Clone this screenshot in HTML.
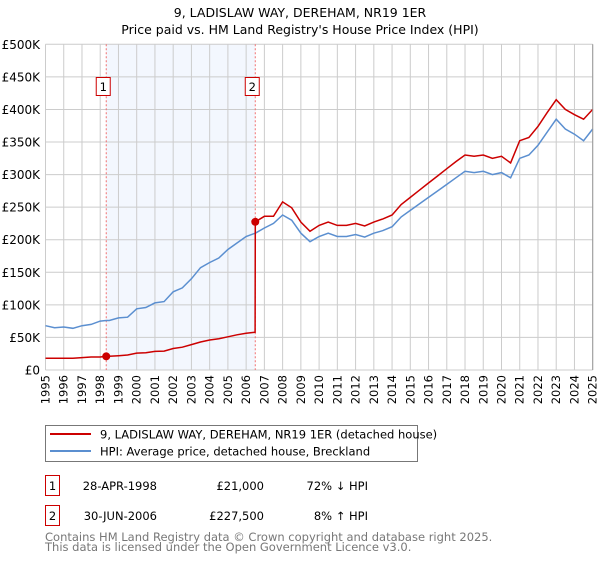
<!DOCTYPE html>
<html><head><meta charset="utf-8"><style>
body{margin:0;background:#fff;font-family:"Liberation Sans","DejaVu Sans",sans-serif;}
svg text{font-family:"DejaVu Sans","Liberation Sans",sans-serif;}
</style></head><body>
<svg id="chart" width="600" height="560" xmlns="http://www.w3.org/2000/svg">
<text x="300" y="17" text-anchor="middle" font-size="12.5" fill="#000">9, LADISLAW WAY, DEREHAM, NR19 1ER</text>
<text x="300" y="34" text-anchor="middle" font-size="12.5" fill="#000">Price paid vs. HM Land Registry's House Price Index (HPI)</text>
<g id="plot"></g>
<g>
<rect x="45.5" y="425.5" width="372" height="36" fill="#fff" stroke="#777"/>
<line x1="50" y1="434" x2="91" y2="434" stroke="#cc0000" stroke-width="2"/>
<text x="100" y="438.5" font-size="11.5">9, LADISLAW WAY, DEREHAM, NR19 1ER (detached house)</text>
<line x1="50" y1="451" x2="91" y2="451" stroke="#5b8fd0" stroke-width="2"/>
<text x="100" y="455.5" font-size="11.5">HPI: Average price, detached house, Breckland</text>
</g>
<g font-size="11.5">
<rect x="45.5" y="475.5" width="14" height="20" fill="#fff" stroke="#cc0000"/>
<text x="52.5" y="490" text-anchor="middle">1</text>
<text x="157" y="490" text-anchor="end">28-APR-1998</text>
<text x="264" y="490" text-anchor="end">£21,000</text>
<text x="368" y="490" text-anchor="end">72% ↓ HPI</text>
<rect x="45.5" y="505.5" width="14" height="20" fill="#fff" stroke="#cc0000"/>
<text x="52.5" y="520" text-anchor="middle">2</text>
<text x="157" y="520" text-anchor="end">30-JUN-2006</text>
<text x="264" y="520" text-anchor="end">£227,500</text>
<text x="368" y="520" text-anchor="end">8% ↑ HPI</text>
</g>
<text x="45" y="541" font-size="11.5" fill="#777">Contains HM Land Registry data © Crown copyright and database right 2025.</text>
<text x="45" y="551" font-size="11.5" fill="#777">This data is licensed under the Open Government Licence v3.0.</text>
</svg>
<script>
const dates=[1995,1995.5,1996,1996.5,1997,1997.5,1998,1998.33,1998.5,1999,1999.5,2000,2000.5,2001,2001.5,2002,2002.5,2003,2003.5,2004,2004.5,2005,2005.5,2006,2006.49,2006.5,2007,2007.5,2008,2008.5,2009,2009.5,2010,2010.5,2011,2011.5,2012,2012.5,2013,2013.5,2014,2014.5,2015,2015.5,2016,2016.5,2017,2017.5,2018,2018.5,2019,2019.5,2020,2020.5,2021,2021.5,2022,2022.5,2023,2023.5,2024,2024.5,2025];
const hpiValues=[68,65,66,64,68,70,75,76,76,80,81,94,96,103,105,120,126,140,157,165,172,185,195,205,210,210,218,225,238,230,210,197,205,210,205,205,208,204,210,214,220,235,245,255,265,275,285,295,305,303,305,300,303,295,325,330,345,365,385,370,362,352,370];
const propValues=[18,18,18,18,19,20,20,21,21,22,23,26,26.5,28.5,29,33,35,39,43,46,48,51,54,56.5,58,227.5,236,236,258,249,227,213,222,227,222,222,225,221,227,232,238,254,265,276,287,298,309,320,330,328,330,325,328,318,352,357,374,395,415,400,392,385,400];
const saleDates=[1998.33,2006.5];
const salePrices=[21,227.5];
const yTicks=[0,50,100,150,200,250,300,350,400,450,500];
const yTickLabels=["£0","£50K","£100K","£150K","£200K","£250K","£300K","£350K","£400K","£450K","£500K"];
const xTicks=[1995,1996,1997,1998,1999,2000,2001,2002,2003,2004,2005,2006,2007,2008,2009,2010,2011,2012,2013,2014,2015,2016,2017,2018,2019,2020,2021,2022,2023,2024,2025];

const X0=45.5,X1=592.7,Y0=370,Y1=44.3;
const xs=d=>X0+(d-1995)/30*(X1-X0);
const ys=v=>Y0-v/500*(Y0-Y1);
const NS="http://www.w3.org/2000/svg";
const plot=document.getElementById('plot');
function mk(tag,attrs,parent){const e=document.createElementNS(NS,tag);for(const k in attrs)e.setAttribute(k,attrs[k]);(parent||plot).appendChild(e);return e;}
const shade=mk('rect',{x:xs(saleDates[0]),y:Y1,width:xs(saleDates[1])-xs(saleDates[0]),height:Y0-Y1,fill:'#eef3fd',opacity:0.7});


xTicks.forEach(t=>{
  const g=mk('line',{x1:xs(t),x2:xs(t),y1:Y1,y2:Y0,stroke:'#ccc','stroke-width':1});
  
  
  const tx=mk('text',{x:0,y:0,'font-size':11.5,'text-anchor':'end',transform:`translate(${xs(t)+4},${Y0+5}) rotate(-90)`});
  tx.textContent=t;
  
  
});
yTicks.forEach((t,i)=>{
  const g=mk('line',{x1:X0,x2:X1,y1:ys(t),y2:ys(t),stroke:'#ccc','stroke-width':1});
  
  
  const tx=mk('text',{x:40,y:ys(t)+4.5,'font-size':12,'text-anchor':'end'});
  tx.textContent=yTickLabels[i];
  
  
});
saleDates.forEach((d,i)=>{
  const l=mk('line',{x1:xs(d),x2:xs(d),y1:Y1,y2:Y0,stroke:'#f07070','stroke-width':1,'stroke-dasharray':'2,2'});
  
  
  const r=mk('rect',{x:xs(d)-10,y:77.5,width:14,height:18,fill:'#fff',stroke:'#cc0000'});
  
  
  const t=mk('text',{x:xs(d)-3,y:91,'font-size':11.5,'text-anchor':'middle'});
  t.textContent=String(i+1);
  
  
});
const pts=v=>dates.map((d,i)=>xs(d).toFixed(1)+','+ys(v[i]).toFixed(1)).join(' ');
const hl=mk('polyline',{points:pts(hpiValues),fill:'none',stroke:'#5b8fd0','stroke-width':1.5});


const pl=mk('polyline',{points:pts(propValues),fill:'none',stroke:'#cc0000','stroke-width':1.5});


saleDates.forEach((d,i)=>{
  const c=mk('circle',{cx:xs(d),cy:ys(salePrices[i]),r:4,fill:'#cc0000'});
  
  
});
const ax=mk('line',{x1:X1,x2:X1,y1:Y1,y2:Y0,stroke:'#999','stroke-width':1});


</script>
</body></html>
